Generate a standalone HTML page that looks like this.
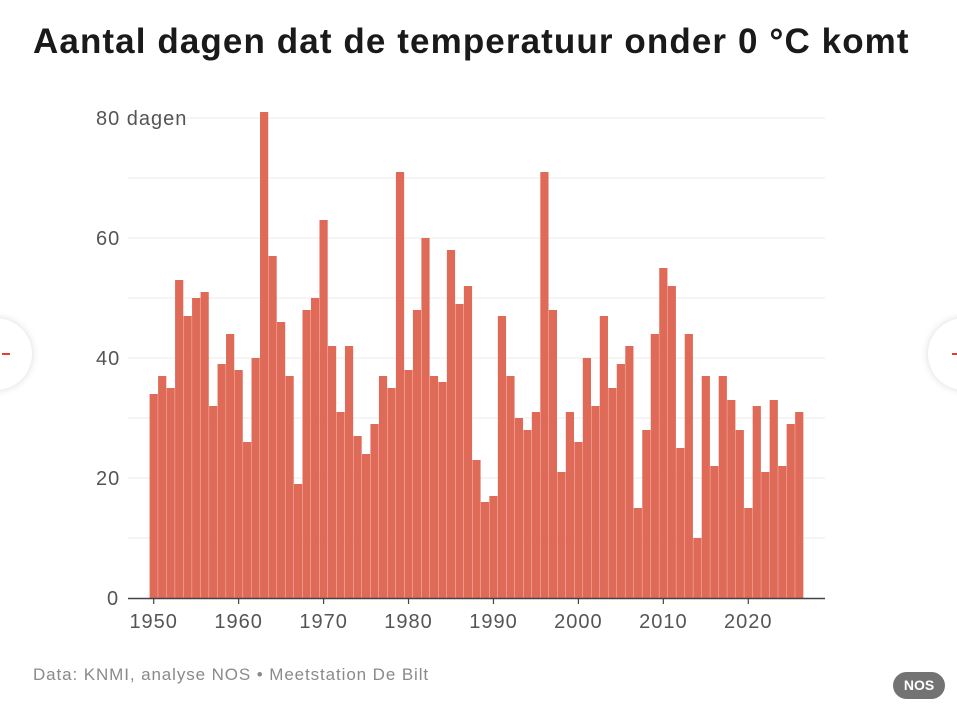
<!DOCTYPE html>
<html><head><meta charset="utf-8"><style>
body{margin:0;width:957px;height:713px;background:#fff;overflow:hidden;position:relative;font-family:"Liberation Sans",sans-serif}
h1{position:absolute;left:33px;top:22px;margin:0;font-size:35px;font-weight:bold;color:#1a1a1a;letter-spacing:1.1px;white-space:nowrap}
.src{position:absolute;left:33px;top:665px;font-size:17px;color:#8a8a8a;letter-spacing:0.9px;white-space:nowrap}
.nos{position:absolute;left:893px;top:672px;width:52px;height:27px;border-radius:14px;background:#737373;color:#fff;font-weight:bold;font-size:14px;text-align:center;line-height:27px}
.nav{position:absolute;top:318px;width:72px;height:72px;border-radius:50%;background:#fff;box-shadow:0 0 8px rgba(0,0,0,.15)}
.nav span{position:absolute;top:35px;width:8px;height:2px;background:#e0402a}
</style></head><body>
<h1>Aantal dagen dat de temperatuur onder 0 °C komt</h1>
<div class="nav" style="left:-40px"><span style="left:42px"></span></div>
<div class="nav" style="left:928px"><span style="left:24px"></span></div>
<svg id="chart" width="957" height="713" style="position:absolute;left:0;top:0"></svg>
<div class="src">Data: KNMI, analyse NOS  •  Meetstation De Bilt</div>
<div class="nos">NOS</div>
<script>
const startYear = 1950;
const values = [34,37,35,53,47,50,51,32,39,44,38,26,40,81,57,46,37,19,48,50,63,42,31,42,27,24,29,37,35,71,38,48,60,37,36,58,49,52,23,16,17,47,37,30,28,31,71,48,21,31,26,40,32,47,35,39,42,15,28,44,55,52,25,44,10,37,22,37,33,28,15,32,21,33,22,29,31];
const yTicks = [0,20,40,60,80];
const yTickLabels = ["0","20","40","60","80 dagen"];
const xTicks = [1950,1960,1970,1980,1990,2000,2010,2020];
const NS="http://www.w3.org/2000/svg";
const svg=document.getElementById('chart');
const x=yr=>153.7+(yr-1950)*8.494;
const y=v=>598-v*6.0;
function mk(t,a){const e=document.createElementNS(NS,t);for(const k in a)e.setAttribute(k,a[k]);svg.appendChild(e);return e;}
for(let v=10;v<=80;v+=10){const g=mk('line',{x1:128,x2:825,y1:y(v),y2:y(v),stroke:'#ebebeb','stroke-width':1});

}
yTicks.forEach((v,i)=>{const t=mk('text',{x:v===0?107:96,y:y(v)+7,'font-size':'20','letter-spacing':'1','fill':'#555','font-family':'Liberation Sans, sans-serif'});t.textContent=yTickLabels[i];

});
values.forEach((v,i)=>{const cx=x(startYear+i);const r=mk('rect',{x:cx-4.1,y:y(v),width:8.2,height:598-y(v),fill:'#e06a58'});

});
const ax=mk('line',{x1:128,x2:825,y1:598.5,y2:598.5,stroke:'#444','stroke-width':1.5});


xTicks.forEach(yr=>{const tk=mk('line',{x1:x(yr),x2:x(yr),y1:598,y2:604,stroke:'#444','stroke-width':1.2});


const t=mk('text',{x:x(yr),y:628,'text-anchor':'middle','font-size':'20','letter-spacing':'1','fill':'#555','font-family':'Liberation Sans, sans-serif'});t.textContent=yr;

});
</script>
</body></html>
